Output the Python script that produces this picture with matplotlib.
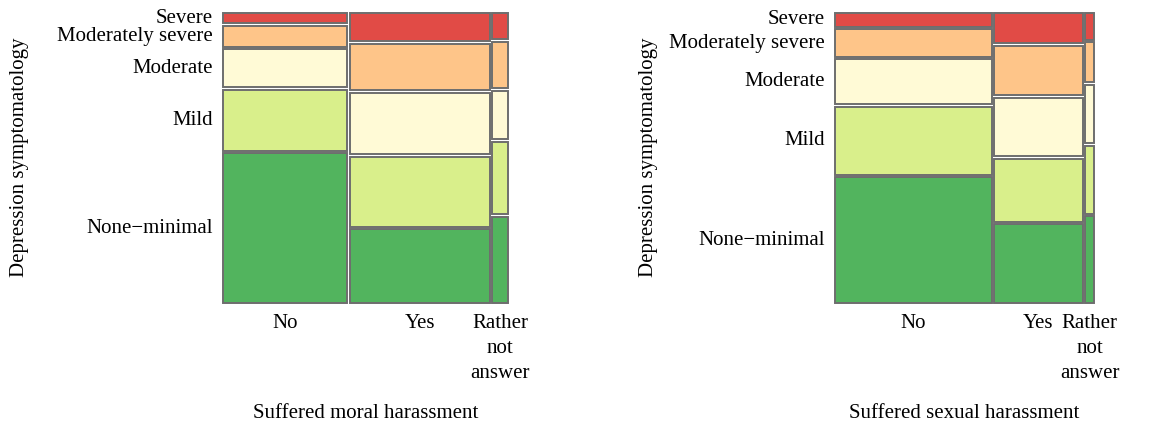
import matplotlib
matplotlib.use("Agg")
import matplotlib.pyplot as plt
from matplotlib.patches import Rectangle

W_PX, H_PX = 1174, 426
DPI = 100

levels = ["None\u2212minimal", "Mild", "Moderate", "Moderately severe", "Severe"]
colors = ["#52B45E", "#D9EF8B", "#FFFAD6", "#FEC589", "#E14B46"]

col_labels = ["No", "Yes", "Rather\nnot\nanswer"]

# Left: moral harassment
moral_widths = [0.443, 0.500, 0.057]
moral_no = [0.536, 0.218, 0.136, 0.074, 0.036]
moral_yes = [0.263, 0.250, 0.221, 0.164, 0.101]
moral_rather = [0.309, 0.259, 0.172, 0.166, 0.093]

# Right: sexual harassment
sexual_widths = [0.616, 0.348, 0.036]
sexual_no = [0.450, 0.244, 0.160, 0.098, 0.048]
sexual_yes = [0.281, 0.224, 0.211, 0.175, 0.108]
sexual_rather = [0.310, 0.242, 0.210, 0.143, 0.094]

FONT = "Liberation Serif"
FS = 15

fig = plt.figure(figsize=(W_PX / DPI, H_PX / DPI), dpi=DPI)


def mosaic(ax_left_px, ax_right_px, widths, cols, xtitle, ytitle_x_px):
    top_px, bot_px = 13.3, 302.7
    w = ax_right_px - ax_left_px
    h = bot_px - top_px
    ax = fig.add_axes([ax_left_px / W_PX, (H_PX - bot_px) / H_PX, w / W_PX, h / H_PX])
    ax.set_xlim(0, w)
    ax.set_ylim(0, h)
    ax.axis("off")
    gx, gy = 2.6, 2.7
    avail_w = w - gx * (len(widths) - 1)
    x = 0.0
    centers_first = []
    for ci, (cw, heights) in enumerate(zip(widths, cols)):
        rw = avail_w * cw / sum(widths)
        avail_h = h - gy * (len(heights) - 1)
        y = 0.0
        for li, hv in enumerate(heights):
            rh = avail_h * hv / sum(heights)
            ax.add_patch(Rectangle((x, y), rw, rh, facecolor=colors[li],
                                   edgecolor="#6E6E6E", linewidth=1.4, clip_on=False))
            if ci == 0:
                centers_first.append(y + rh / 2)
            y += rh + gy
        # x label
        ax.text(x + rw / 2, -11, col_labels[ci], ha="center", va="top",
                fontsize=FS, family=FONT, linespacing=1.45)
        x += rw + gx
    for li, cy in enumerate(centers_first):
        ax.text(-10, cy, levels[li], ha="right", va="center", fontsize=FS, family=FONT)
    # axis titles
    fig.text((ax_left_px + ax_right_px) / 2 / W_PX, 1 - 413 / H_PX, xtitle,
             ha="center", va="center", fontsize=FS, family=FONT)
    fig.text(ytitle_x_px / W_PX, 1 - 157 / H_PX, "Depression symptomatology",
             ha="center", va="center", rotation=90, fontsize=FS, family=FONT)


mosaic(222.7, 508.3, moral_widths, [moral_no, moral_yes, moral_rather],
       "Suffered moral harassment", 20)
mosaic(835.0, 1094.3, sexual_widths, [sexual_no, sexual_yes, sexual_rather],
       "Suffered sexual harassment", 648)

fig.savefig("out.png", dpi=DPI)
